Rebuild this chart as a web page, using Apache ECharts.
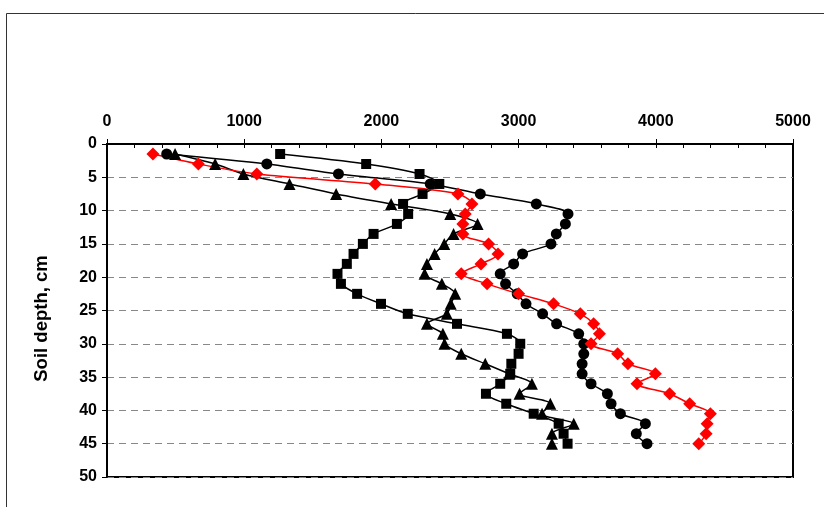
<!DOCTYPE html>
<html>
<head>
<meta charset="utf-8">
<script src="https://cdn.jsdelivr.net/npm/echarts@6/dist/echarts.min.js"></script>
<style>html,body{margin:0;padding:0;background:#fff;}#c{width:824px;height:507px;}</style>
</head>
<body>
<div id="c"></div>
<script>
const depths = [1.5,3,4.5,6,7.5,9,10.5,12,13.5,15,16.5,18,19.5,21,22.5,24,25.5,27,28.5,30,31.5,33,34.5,36,37.5,39,40.5,42,43.5,45];
const circles = [435,1165,1687,2356,2721,3129,3360,3341,3275,3236,3029,2964,2866,2905,2990,3054,3175,3277,3438,3475,3475,3463,3463,3528,3647,3674,3742,3924,3858,3936];
const squares = [1262,1889,2278,2422,2300,2158,2195,2113,1943,1865,1797,1748,1680,1705,1823,1997,2192,2551,2915,3012,3000,2947,2939,2866,2762,2910,3110,3292,3328,3357];
const triangles = [496,788,994,1330,1670,2071,2502,2701,2526,2458,2388,2332,2315,2441,2538,2505,2477,2332,2448,2460,2582,2757,2930,3097,3007,3231,3171,3402,3243,3243];
const diamonds = [335,666,1092,1955,2558,2660,2611,2594,2594,2781,2850,2726,2582,2770,3000,3255,3450,3547,3589,3528,3722,3797,3997,3863,4101,4247,4398,4374,4367,4313];
const xTicks = [0,1000,2000,3000,4000,5000];
const yTicks = [0,5,10,15,20,25,30,35,40,45,50];
const yName = 'Soil depth, cm';

function pairs(vals){ return vals.map((v,i)=>[v, depths[i]]); }
const font = 'Liberation Sans, Arial, sans-serif';
function mk(name, vals, symbol, size, color){
  return {
    name, type:'line', data: pairs(vals), symbol, symbolSize:size, smooth:0.3,
    lineStyle:{color, width:1.5}, itemStyle:{color, borderWidth:0},
    xAxisIndex:0, yAxisIndex:0, z: 3
  };
}
const chart = echarts.init(document.getElementById('c'), null, {renderer:'canvas'});
chart.setOption({
  animation:false,
  backgroundColor:'#fff',
  graphic:[{type:'rect', shape:{x:6.5,y:13.5,width:900,height:600}, style:{fill:'none', stroke:'#333', lineWidth:1}, silent:true}],
  grid:{left:107, top:144, width:686, height:333, show:true, borderColor:'#000', borderWidth:2, backgroundColor:'transparent'},
  xAxis:[{
    type:'value', position:'top', min:0, max:5000, interval:1000,
    axisLine:{show:true, lineStyle:{color:'#000', width:2}},
    axisTick:{show:true, inside:false, length:5, lineStyle:{color:'#000', width:1}},
    axisLabel:{show:true, margin:14, color:'#000', fontFamily:font, fontWeight:'bold', fontSize:16,
      formatter:(v)=> xTicks.includes(v) ? String(v) : ''},
    splitLine:{show:false}
  },{
    type:'value', position:'top', min:0, max:5000, interval:200,
    axisLine:{show:false}, axisTick:{show:true, inside:true, length:4, lineStyle:{color:'#000', width:1}},
    axisLabel:{show:false}, splitLine:{show:false}
  }],
  yAxis:{
    type:'value', inverse:true, min:0, max:50, interval:5,
    name:yName, nameLocation:'middle', nameGap:56, nameRotate:90,
    nameTextStyle:{color:'#000', fontFamily:font, fontWeight:'bold', fontSize:18.5, padding:[0,16,0,0]},
    axisLine:{show:true, lineStyle:{color:'#000', width:2}},
    axisTick:{show:true, inside:false, length:5, lineStyle:{color:'#000', width:1}},
    axisLabel:{show:true, margin:10, color:'#000', fontFamily:font, fontWeight:'bold', fontSize:16,
      formatter:(v)=> yTicks.includes(v) ? String(v) : ''},
    splitLine:{show:true, lineStyle:{color:'#888', width:1, type:[7,5]}}
  },
  series:[
    mk('circles', circles, 'circle', 11, '#000'),
    mk('squares', squares, 'rect', 10, '#000'),
    mk('triangles', triangles, 'triangle', 12, '#000'),
    mk('diamonds', diamonds, 'diamond', 13, '#ff0000')
  ]
});
</script>
</body>
</html>
